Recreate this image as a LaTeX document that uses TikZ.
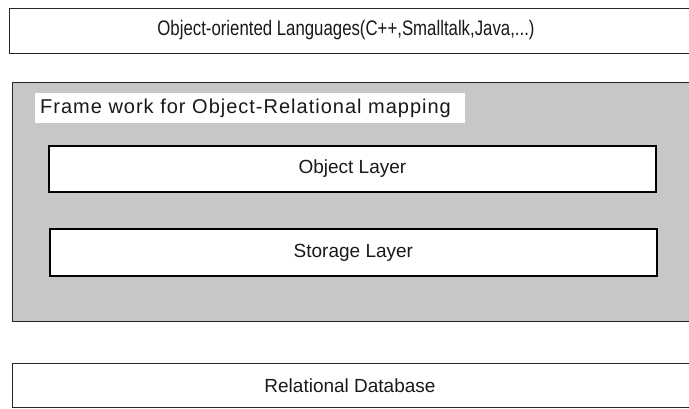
\documentclass[tikz,border=0pt]{standalone}
\usepackage{fontspec}
\setmainfont{Liberation Sans}
\newfontfamily\spacedfont[LetterSpace=5]{Liberation Sans}
\begin{document}
\begin{tikzpicture}[x=1pt,y=-1pt,
  outerbox/.style={draw=black!85, line width=1.3pt, rectangle, anchor=north west, inner sep=0pt},
  layerbox/.style={draw=black, fill=white, line width=1.8pt, rectangle, anchor=north west, inner sep=0pt},
  txt/.style={inner sep=0pt, font=\fontsize{19}{22}\selectfont, text=black!90}]
\useasboundingbox (0,0) rectangle (689,408);
\clip (0,0) rectangle (689,408);
% languages on top
\node[outerbox, minimum width=700pt, minimum height=45pt] (lang) at (9,8) {};
\node[txt, font=\fontsize{21}{24}\selectfont, xscale=0.8] (langtxt) at (346,30) {Object-oriented Languages(C++,Smalltalk,Java,...)};
% mapping framework
\node[outerbox, fill=black!22, minimum width=700pt, minimum height=239pt] (frame) at (12,82) {};
\node[fill=white, anchor=north west, inner sep=0pt, minimum width=430pt, minimum height=30pt] (framelabel) at (35,93) {};
\node[txt, font=\spacedfont\fontsize{20}{23}\selectfont, anchor=west] (frametxt) at (40,108) {Frame work for Object-Relational mapping};
\node[layerbox, minimum width=607pt, minimum height=46pt] (objlayer) at (48,145) {};
\node[txt] (objtxt) at (objlayer.center) {Object Layer};
\node[layerbox, minimum width=607pt, minimum height=47pt] (storlayer) at (49,228) {};
\node[txt] (stortxt) at (storlayer.center) {Storage Layer};
% database at the bottom
\node[outerbox, minimum width=700pt, minimum height=44pt] (db) at (12,363) {};
\node[txt] (dbtxt) at (350,386) {Relational Database};
\end{tikzpicture}
\end{document}
